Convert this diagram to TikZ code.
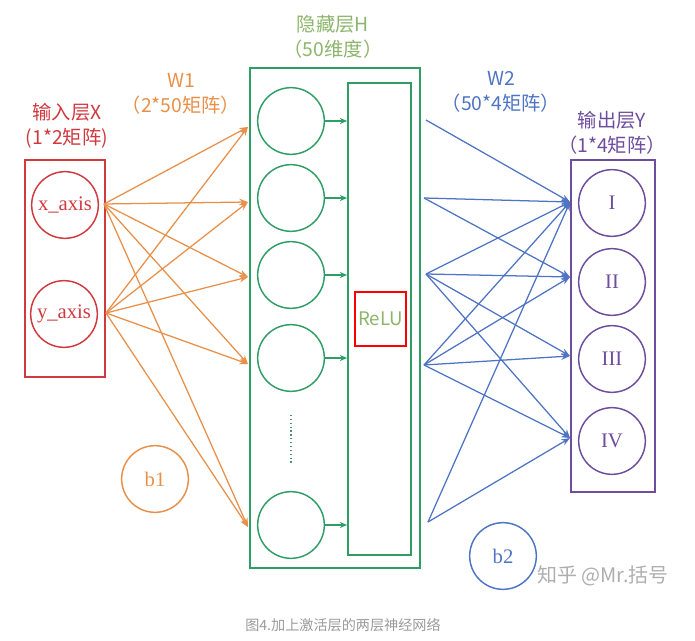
\documentclass[tikz,border=0pt]{standalone}
\usepackage{fontspec}
\setmainfont{Liberation Serif}
\newfontfamily\cjk{Noto Sans CJK SC}
\usetikzlibrary{arrows.meta}
\definecolor{cred}{HTML}{D0393E}
\definecolor{corange}{HTML}{E8904A}
\definecolor{cgreen}{HTML}{2E9E66}
\definecolor{colive}{HTML}{8DB56B}
\definecolor{cblue}{HTML}{4F74C4}
\definecolor{cpurple}{HTML}{6E4C9E}
\definecolor{cgray}{HTML}{9A9A9A}
\begin{document}
\begin{tikzpicture}[x=0.75pt,y=-0.75pt,
  neuron/.style={circle, draw, minimum size=50pt, inner sep=0pt, line width=1.1pt, font=\fontsize{15.5}{17}\selectfont},
  lbl/.style={align=center, font=\cjk\fontsize{14.5}{18.75}\selectfont},
  box/.style={draw, line width=1.2pt, inner sep=0pt},
  conn/.style={line width=0.95pt, -{Stealth[length=6.5pt,width=5pt]}},
  sconn/.style={line width=1pt, -{Stealth[length=5.5pt,width=4.5pt]}, cgreen}
]
\useasboundingbox (0,0) rectangle (695,641);

% labels
\node[lbl, text=cred] (lx) at (67,125.5) {输入层X\\(1*2矩阵)};
\node[lbl, text=corange] (lw1) at (181,94) {W1\\（2*50矩阵）};
\node[lbl, text=colive] (lh) at (333,37) {隐藏层H\\（50维度）};
\node[lbl, text=cblue] (lw2) at (501,92) {W2\\（50*4矩阵）};
\node[lbl, text=cpurple] (ly) at (612,132.5) {输出层Y\\（1*4矩阵）};

% boxes
\node[box, cred, minimum width=60pt, minimum height=162.75pt] (ibox) at (65,268.5) {};
\node[box, cgreen, minimum width=127.5pt, minimum height=375pt] (hbox) at (335,318) {};
\node[box, cgreen, minimum width=47.25pt, minimum height=354pt] (relu) at (379.5,319) {};
\node[box, cpurple, minimum width=63pt, minimum height=249pt] (obox) at (613,326) {};
\node[draw=red, line width=1.4pt, minimum width=38.25pt, minimum height=40.5pt, inner sep=0pt, text=colive, font=\cjk\fontsize{14}{16}\selectfont] (rl) at (380.5,319) {ReLU};

% input neurons
\node[neuron, cred] (x) at (65,205) {x\_axis};
\node[neuron, cred] (y) at (64,314) {y\_axis};

% hidden neurons
\node[neuron, cgreen] (h1) at (291,121) {};
\node[neuron, cgreen] (h2) at (291,198) {};
\node[neuron, cgreen] (h3) at (291,275) {};
\node[neuron, cgreen] (h4) at (291,358) {};
\node[neuron, cgreen] (h5) at (291,525) {};
\draw[cgreen!60!gray, line width=0.9pt, dotted] (291,415) -- (291,465);

% output neurons
\node[neuron, cpurple] (o1) at (612,203) {I};
\node[neuron, cpurple] (o2) at (612,282) {II};
\node[neuron, cpurple] (o3) at (612,359) {III};
\node[neuron, cpurple] (o4) at (612,441) {IV};

% biases
\node[neuron, corange] (b1) at (155,479) {b1};
\node[neuron, cblue] (b2) at (503,556) {b2};

% hidden -> relu
\foreach \i in {1,...,5} \draw[sconn] (h\i.east) -- (h\i.east -| relu.west);

% orange connectors
\coordinate (xs) at (104,204);
\coordinate (ys) at (106,313);
\coordinate (t1) at (248,127);
\coordinate (t2) at (248,202);
\coordinate (t3) at (248,277);
\coordinate (t4) at (248,364);
\coordinate (t5) at (248,527);
\foreach \t in {t1,t2,t3,t4,t5} {
  \draw[conn, corange] (xs) -- (\t);
  \draw[conn, corange] (ys) -- (\t);
}

% blue connectors
\coordinate (s1) at (426,120);
\coordinate (s2) at (424,198);
\coordinate (s3) at (426,274);
\coordinate (s4) at (424,365);
\coordinate (s5) at (428,522);
\coordinate (e1) at (570,202);
\coordinate (e2) at (570,277);
\coordinate (e3) at (570,356);
\coordinate (e4) at (570,438);
\foreach \s/\e in {s1/e1, s2/e1, s2/e2, s3/e1, s3/e2, s3/e3, s3/e4, s4/e1, s4/e2, s4/e3, s4/e4, s5/e1, s5/e4}
  \draw[conn, cblue] (\s) -- (\e);

% watermark and caption
\node[text=cgray!80, font=\cjk\fontsize{15}{17}\selectfont] (wm) at (603,576) {知乎 @Mr.括号};
\node[text=cgray, font=\cjk\fontsize{10.6}{12}\selectfont] (cap) at (343,625) {图4.加上激活层的两层神经网络};
\end{tikzpicture}
\end{document}
